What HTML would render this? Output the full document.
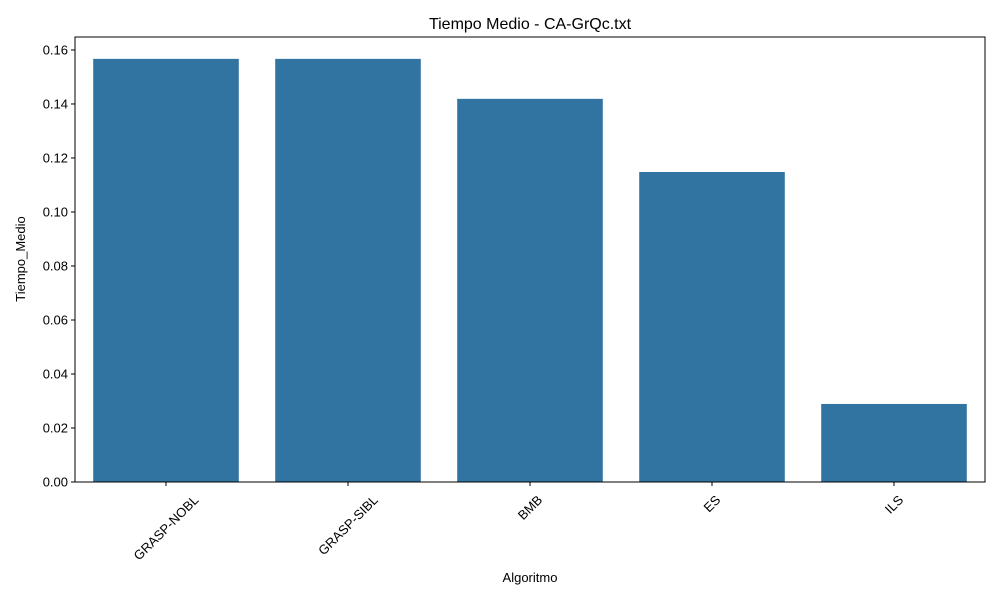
<!DOCTYPE html>
<html><head><meta charset="utf-8"><style>body{margin:0;background:#fff}svg{display:block;font-family:"Liberation Sans","DejaVu Sans",sans-serif}</style></head>
<body>
<svg id="chart" width="1000" height="600">
<rect width="1000" height="600" fill="#fff"/>
<text x="530" y="29" font-size="16" text-anchor="middle">Tiempo Medio - CA-GrQc.txt</text>
<g id="bars"></g><g id="yaxis"></g><g id="xaxis"></g>
<rect x="75" y="37" width="910" height="445" fill="none" stroke="#000" stroke-width="1"/>
<text x="530" y="582" font-size="13" text-anchor="middle">Algoritmo</text>
<text transform="translate(25,259) rotate(-90)" font-size="13" text-anchor="middle">Tiempo_Medio</text>
</svg>
<script>
const categories=["GRASP-NOBL","GRASP-SIBL","BMB","ES","ILS"];
const values=[0.1567,0.1567,0.1419,0.1148,0.0289];
const yTicks=[0,0.02,0.04,0.06,0.08,0.10,0.12,0.14,0.16];
const yTickLabels=["0.00","0.02","0.04","0.06","0.08","0.10","0.12","0.14","0.16"];
const NS="http://www.w3.org/2000/svg";
const L=75,R=985,T=37,B=482,YMAX=0.1648;
const y=v=>B-(v/YMAX)*(B-T);
const slot=(R-L)/categories.length;
const xc=i=>L+slot*(i+0.5);
function mk(t,a,p){const e=document.createElementNS(NS,t);for(const k in a)e.setAttribute(k,a[k]);p.appendChild(e);return e;}
const gb=document.getElementById('bars'),gy=document.getElementById('yaxis'),gx=document.getElementById('xaxis');
values.forEach((v,i)=>{const w=slot*0.8;
const r=mk('rect',{x:xc(i)-w/2,y:y(v),width:w,height:B-y(v),fill:'#3274a1'},gb);

});
yTicks.forEach((t,i)=>{const yy=y(t);
mk('line',{x1:L-4,x2:L,y1:yy,y2:yy,stroke:'#000'},gy);
const tx=mk('text',{x:L-7,y:yy+4.5,'font-size':13,'text-anchor':'end'},gy);tx.textContent=yTickLabels[i];

});
categories.forEach((c,i)=>{const x=xc(i);
mk('line',{x1:x,x2:x,y1:B,y2:B+4,stroke:'#000'},gx);
const tx=mk('text',{x:0,y:4.5,'font-size':13,'text-anchor':'middle'},gx);tx.textContent=c;


const w=tx.getComputedTextLength(),h=10;
const cy=494+(w+h)*0.3536;
tx.setAttribute('transform',`translate(${x},${cy}) rotate(-45)`);});
</script>
</body></html>
